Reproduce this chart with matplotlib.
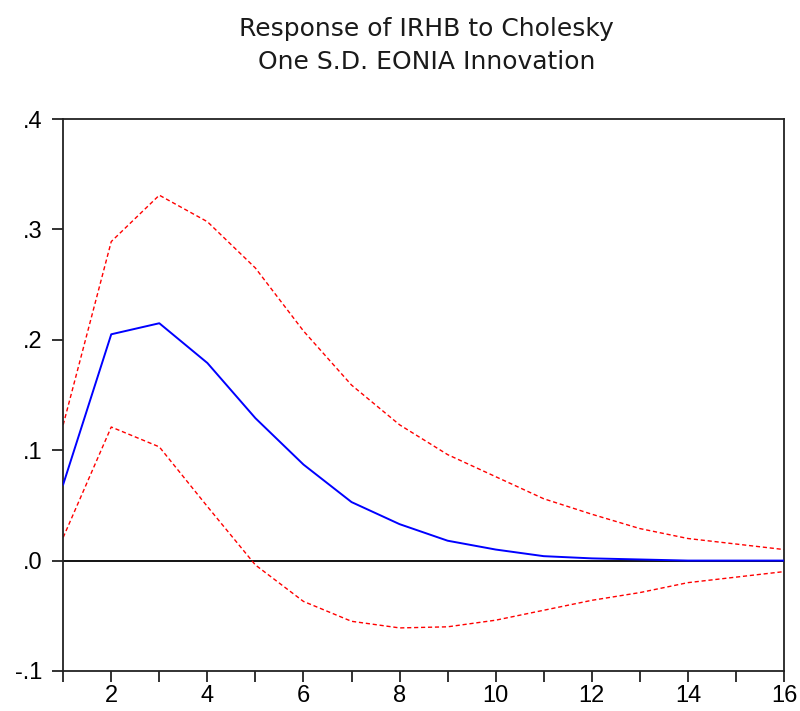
import numpy
import matplotlib
matplotlib.use('Agg')
from matplotlib import pyplot as plt

# impulse response of IRHB to a one S.D. EONIA shock
periods = [1, 2, 3, 4, 5, 6, 7, 8, 9, 10, 11, 12, 13, 14, 15, 16]
response = [0.069, 0.205, 0.215, 0.179, 0.129, 0.087, 0.053, 0.033, 0.018, 0.010,
            0.004, 0.002, 0.001, 0.000, 0.000, 0.000]
upper_band = [0.123, 0.289, 0.331, 0.307, 0.265, 0.208, 0.159, 0.123, 0.096, 0.076,
              0.056, 0.042, 0.029, 0.020, 0.015, 0.010]
lower_band = [0.021, 0.121, 0.103, 0.049, -0.004, -0.037, -0.055, -0.061, -0.060, -0.054,
              -0.045, -0.036, -0.029, -0.020, -0.015, -0.010]

yticks = [-0.1, 0.0, 0.1, 0.2, 0.3, 0.4]
ytick_labels = ['-.1', '.0', '.1', '.2', '.3', '.4']
xticks = [2, 4, 6, 8, 10, 12, 14, 16]

plt.rcParams['font.family'] = ['Liberation Sans', 'DejaVu Sans']

fig = plt.figure(figsize=(8, 7.11), dpi=100)
ax = fig.add_axes([0.079, 0.0563, 0.901, 0.7763])

ax.axhline(y=0, color='black', lw=1.3, zorder=1)
ax.plot(periods, upper_band, color='red', ls=(0, (3, 2)), lw=1.0, zorder=2)
ax.plot(periods, lower_band, color='red', ls=(0, (3, 2)), lw=1.0, zorder=2)
ax.plot(periods, response, color='blue', lw=1.4, zorder=3)

ax.set_xlim(1, 16)
ax.set_ylim(-0.1, 0.4)
ax.set_xticks(range(1, 17), minor=True)
ax.set_xticks(xticks)
ax.set_xticklabels([str(t) for t in xticks], fontsize=17)
ax.set_yticks(yticks)
ax.set_yticklabels(ytick_labels, fontsize=17)
ax.tick_params(axis='both', which='both', direction='out', length=8, width=1.3, color='#222222')
ax.tick_params(axis='y', pad=7)
ax.tick_params(axis='x', pad=2)
for side in ax.spines.values():
	side.set_linewidth(1.3)
	side.set_color('#222222')

# title drawn as two centred lines, in a wider face like the original
fig.text(0.533, 0.959, 'Response of IRHB to Cholesky', ha='center', va='center',
	fontsize=18, color='#1a1a1a', family='DejaVu Sans')
fig.text(0.533, 0.913, 'One S.D. EONIA Innovation', ha='center', va='center',
	fontsize=18, color='#1a1a1a', family='DejaVu Sans')

plt.savefig('out.png', dpi=100)
